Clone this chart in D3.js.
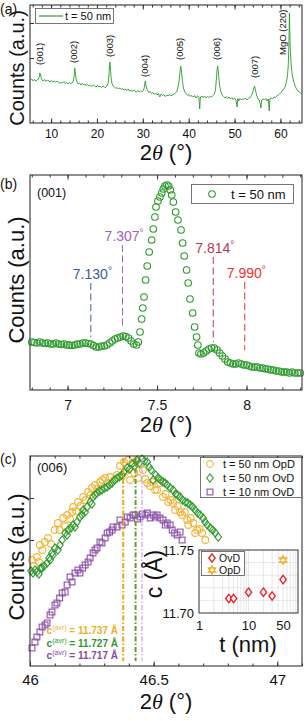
<!DOCTYPE html>
<html>
<head>
<meta charset="utf-8">
<script src="https://cdn.jsdelivr.net/npm/d3@7"></script>
<style>
  body { margin: 0; background: #fff; }
  svg text { font-family: "Liberation Sans", Arial, sans-serif; fill: #111; }
</style>
</head>
<body>
<div id="chart"></div>
<script>
// ---------- data ----------

// (a) wide 2theta scan, t = 50 nm  [2theta, counts a.u.]
const scanA = [[5.5,44],[5.8,45],[6.1,43],[6.4,44.5],[6.7,43],[7.0,44],[7.2,45],[7.4,47],[7.55,51],[7.7,49],[7.85,46],[8.0,44],[8.3,43],[8.6,44.5],[8.9,42.5],[9.2,44],[9.5,43],[9.8,42],[10.1,43.5],[10.4,42],[10.7,43],[11.0,41.5],[11.3,43],[11.6,42],[11.9,40.5],[12.2,42],[12.5,41],[12.8,42.5],[13.1,40.5],[13.4,41.5],[13.7,40],[14.0,41.5],[14.3,40.5],[14.6,41],[14.85,43],[15.0,47],[15.15,56],[15.3,51],[15.45,45],[15.65,42],[15.9,40],[16.2,41],[16.5,39],[16.8,40.5],[17.1,39],[17.4,40],[17.7,38.5],[18.0,39.5],[18.3,38],[18.6,39],[18.9,37.5],[19.2,39],[19.5,38],[19.8,37],[20.1,38.5],[20.4,37],[20.7,38],[21.0,36.5],[21.3,38],[21.6,37],[21.9,36.5],[22.2,38],[22.45,41],[22.6,48],[22.72,57],[22.82,62],[22.92,57],[23.05,48],[23.25,41],[23.5,38],[23.8,37],[24.1,35.5],[24.4,36.5],[24.7,35],[25.0,36],[25.3,34.5],[25.6,35.5],[25.9,34],[26.2,35],[26.5,33.5],[26.8,35],[27.1,33],[27.4,34],[27.7,32.5],[28.0,34],[28.3,33],[28.6,32],[28.9,33.5],[29.2,32],[29.5,33],[29.8,32],[30.1,33.5],[30.3,36],[30.45,41],[30.55,43],[30.7,38],[30.95,34],[31.3,31.5],[31.6,32.5],[31.9,30.5],[32.2,31.5],[32.5,29.5],[32.8,31],[33.1,29],[33.4,30.5],[33.7,27],[34.0,30],[34.3,28.5],[34.6,29.5],[34.9,27.5],[35.2,29],[35.5,28],[35.8,29.5],[36.1,28],[36.4,29],[36.7,29.5],[37.0,30.5],[37.35,32],[37.65,36],[37.9,43],[38.1,52],[38.25,58],[38.4,54],[38.6,44],[38.85,36],[39.15,32],[39.5,30],[39.8,28.5],[40.1,29.5],[40.4,27.5],[40.7,28.5],[41.0,27],[41.3,28.5],[41.6,26],[41.9,28],[42.2,27],[42.4,15],[42.55,27],[42.9,28],[43.2,26.5],[43.5,28],[43.8,26],[44.1,27.5],[44.4,26.5],[44.7,27.5],[45.0,27],[45.3,28.5],[45.6,30],[45.85,35],[46.05,46],[46.2,55],[46.33,58],[46.48,51],[46.68,41],[46.95,33],[47.3,29],[47.6,27.5],[47.9,26],[48.2,27.5],[48.5,25.5],[48.8,27],[49.1,25],[49.4,26.5],[49.7,24.5],[50.0,26],[50.3,24],[50.55,17],[50.7,25.5],[50.9,23],[51.2,25.5],[51.5,24],[51.8,25.5],[52.1,24.5],[52.4,26],[52.7,24],[53.0,25.5],[53.3,26],[53.6,28],[53.9,31],[54.15,35],[54.35,38],[54.55,34],[54.8,29],[55.1,25],[55.4,24],[55.75,16],[55.9,24],[56.2,25],[56.5,24],[56.8,25.5],[57.1,23],[57.35,25],[57.55,13],[57.7,25],[58.0,26],[58.3,25.5],[58.6,27],[58.9,26.5],[59.2,28],[59.5,29],[59.8,30],[60.1,31.5],[60.4,33],[60.7,35],[61.0,37],[61.25,41],[61.5,47],[61.7,58],[61.82,75],[61.9,95],[61.96,111],[62.02,96],[62.12,78],[62.3,62],[62.55,50],[62.85,43],[63.2,38],[63.5,35],[63.8,33],[64.1,32],[64.4,31],[64.65,30.5]];
const peakNames = ["(001)", "(002)", "(003)", "(004)", "(005)", "(006)", "(007)", "MgO (220)"];
const peakLabelTheta = [7.6, 14.9, 22.8, 30.45, 38.1, 46.2, 54.3, 60.4];
const peakLabelCounts = [59, 61, 67, 47, 64, 64, 46, 69];

// (b) (001) reflection  [2theta, counts a.u.]
const scanB = [[6.800,48],[6.815,47.5],[6.830,47],[6.845,48],[6.860,47],[6.875,46.5],[6.890,47],[6.905,46],[6.920,46],[6.935,47],[6.950,46],[6.965,45.5],[6.980,46],[6.995,45],[7.010,45],[7.025,44.5],[7.040,45],[7.055,46],[7.070,46],[7.085,47],[7.100,47],[7.115,46.5],[7.130,46],[7.145,44.5],[7.160,43],[7.175,43],[7.190,44],[7.205,44],[7.220,45],[7.235,47],[7.250,49],[7.265,51],[7.280,52],[7.295,53],[7.310,54],[7.325,53.5],[7.340,52],[7.355,49],[7.370,46],[7.385,45],[7.395,48],[7.405,58],[7.414,71],[7.420,82],[7.427,93],[7.436,110],[7.445,124],[7.456,138],[7.470,150],[7.479,161],[7.488,173],[7.494,183],[7.505,189],[7.516,193],[7.526,197],[7.535,201],[7.544,204],[7.555,205],[7.565,204],[7.574,200],[7.582,195],[7.591,188],[7.604,178],[7.617,170],[7.634,160],[7.643,147],[7.652,134],[7.665,120],[7.674,107],[7.684,91],[7.699,77],[7.710,63],[7.721,53],[7.728,45],[7.734,37],[7.745,36],[7.760,37],[7.775,39],[7.790,41],[7.805,42],[7.820,42],[7.835,40],[7.850,37],[7.865,34],[7.880,31],[7.895,28],[7.910,27],[7.925,26],[7.940,26],[7.955,27],[7.970,26],[7.985,25],[8.000,25],[8.015,24],[8.030,23],[8.045,23],[8.060,23],[8.075,22],[8.090,22],[8.105,21],[8.120,21],[8.135,20],[8.150,20],[8.165,19],[8.180,19],[8.195,18],[8.210,18],[8.225,18],[8.240,17],[8.255,18],[8.270,17],[8.285,17],[8.300,17]];
const satPos = [7.130, 7.307, 7.814, 7.990];
const satTop = [107, 145, 133, 108];
const satBottom = [53, 63, 48, 40];
const satColors = ["#3b5ba5", "#a662b8", "#b23a55", "#ee3333"];

// (c) (006) reflection  [2theta, counts a.u.]
const opd50 = [[46.008,106],[46.016,100],[46.028,109],[46.036,104],[46.04,121],[46.05,116],[46.06,124],[46.073,128],[46.085,122],[46.1,136],[46.113,143],[46.12,136],[46.134,148],[46.142,140],[46.15,151],[46.162,147],[46.17,154],[46.174,159],[46.186,155],[46.194,164],[46.205,160],[46.215,169],[46.225,166],[46.235,174],[46.245,171],[46.25,178],[46.263,181],[46.272,177],[46.283,184],[46.293,186],[46.304,188],[46.314,183],[46.324,189],[46.34,186],[46.352,191],[46.364,200],[46.372,190],[46.38,204],[46.388,195],[46.397,206],[46.405,186],[46.413,203],[46.422,193],[46.43,205],[46.437,188],[46.445,201],[46.457,196],[46.466,187],[46.474,183],[46.486,180],[46.495,184],[46.506,176],[46.514,176],[46.526,183],[46.538,169],[46.548,172],[46.559,164],[46.569,166],[46.579,163],[46.587,156],[46.597,160],[46.607,154],[46.615,151],[46.626,154],[46.636,146],[46.64,141],[46.65,148],[46.66,143],[46.668,133],[46.676,136],[46.686,137],[46.696,133],[46.709,126]];
const ovd50 = [[46.004,95],[46.012,93],[46.02,96],[46.028,94],[46.036,92],[46.044,98],[46.049,98],[46.057,100],[46.069,103],[46.077,108],[46.081,106],[46.089,113],[46.093,111],[46.101,118],[46.113,116],[46.121,121],[46.13,126],[46.142,133],[46.15,131],[46.154,136],[46.166,138],[46.174,141],[46.182,139],[46.19,144],[46.202,149],[46.21,151],[46.215,156],[46.223,154],[46.231,159],[46.243,164],[46.25,162],[46.255,169],[46.263,171],[46.271,173],[46.281,175],[46.291,176],[46.302,178],[46.312,179],[46.322,181],[46.332,183],[46.342,186],[46.352,188],[46.362,189],[46.372,191],[46.38,194],[46.393,198],[46.403,197],[46.413,202],[46.423,200],[46.433,206],[46.443,203],[46.453,207],[46.463,205],[46.474,204],[46.482,199],[46.49,196],[46.498,186],[46.508,191],[46.518,188],[46.528,186],[46.538,184],[46.546,183],[46.555,181],[46.567,178],[46.579,176],[46.589,172],[46.597,171],[46.607,169],[46.617,166],[46.628,164],[46.638,163],[46.648,161],[46.658,159],[46.668,156],[46.678,153],[46.688,151],[46.7,148],[46.708,144],[46.717,141],[46.729,138],[46.739,136],[46.749,133],[46.761,129]];
const ovd10 = [[46.008,18],[46.02,24],[46.028,29],[46.04,34],[46.049,39],[46.061,41],[46.069,43],[46.081,51],[46.089,54],[46.101,61],[46.109,63],[46.12,68],[46.13,73],[46.142,74],[46.15,81],[46.162,89],[46.17,84],[46.182,93],[46.194,96],[46.202,93],[46.213,98],[46.223,101],[46.235,104],[46.243,108],[46.255,113],[46.263,116],[46.271,118],[46.283,124],[46.291,123],[46.304,128],[46.312,133],[46.322,134],[46.332,136],[46.336,139],[46.352,139],[46.364,146],[46.372,141],[46.385,144],[46.393,149],[46.405,148],[46.417,151],[46.425,151],[46.435,147],[46.445,149],[46.455,152],[46.466,151],[46.474,153],[46.486,148],[46.498,151],[46.506,149],[46.514,151],[46.526,148],[46.538,146],[46.547,141],[46.555,143],[46.567,141],[46.575,136],[46.585,133],[46.595,131],[46.607,134],[46.615,126]];
const avrPos = [46.377, 46.427, 46.453];
const avrText = ["11.737", "11.727", "11.717"];

// (c) inset: c lattice parameter vs thickness
const thick = [4, 5, 10, 20, 30, 50];
const cOvD = [11.7115, 11.7115, 11.7165, 11.7165, 11.7135, 11.7265];
const cOvDErr = [0.003, 0.003, 0.003, 0.003, 0.003, 0.003];
const thickOpD = [50];
const cOpD = [11.742];

// ---------- colours ----------
const GREEN = "#2e9a2e", ORANGE = "#f2b53a", PURPLE = "#8c4fa8";
const colOpD = ORANGE, colOvD50 = GREEN, colOvD10 = PURPLE;
const avrLineColors = ["#f0a21e", "#5f9e2c", "#d2aaf3"];
const avrTextColors = ["#f0ae2a", "#2f9a2f", "#8a48a8"];

// ---------- svg ----------
const svg = d3.select("#chart").append("svg")
    .attr("width", 308)
    .attr("height", 721);

const serif = "'Liberation Serif', 'DejaVu Serif', serif";

// frame + inward ticks on all four sides
function drawAxes(box, x, major, minor, fs, pad, fmt, yTicks, y) {
  const g = svg.append("g").attr("stroke-width", 1);
  g.append("g")
      .attr("transform", `translate(0,${box.bottom})`)
      .call(d3.axisBottom(x).tickValues(minor).tickSizeInner(-2.5).tickSizeOuter(0).tickFormat(""))
      .call(s => s.select(".domain").remove());
  g.append("g")
      .attr("transform", `translate(0,${box.bottom})`)
      .call(d3.axisBottom(x).tickValues(major).tickSizeInner(-4.5).tickSizeOuter(0).tickPadding(pad).tickFormat(fmt))
      .call(s => s.select(".domain").remove())
      .call(s => s.selectAll("text").attr("font-size", fs).attr("fill", "#111").style("font-family", "'Liberation Sans', Arial, sans-serif"));
  g.append("g")
      .attr("transform", `translate(0,${box.top})`)
      .call(d3.axisTop(x).tickValues(minor).tickSizeInner(-2.5).tickSizeOuter(0).tickFormat(""))
      .call(s => s.select(".domain").remove());
  g.append("g")
      .attr("transform", `translate(0,${box.top})`)
      .call(d3.axisTop(x).tickValues(major).tickSizeInner(-4.5).tickSizeOuter(0).tickFormat(""))
      .call(s => s.select(".domain").remove());
  if (yTicks) {
    g.append("g")
        .attr("transform", `translate(${box.left},0)`)
        .call(d3.axisLeft(y).tickValues(yTicks).tickSizeInner(-4).tickSizeOuter(0).tickFormat(""))
        .call(s => s.select(".domain").remove());
  }
  g.selectAll(".tick line").attr("stroke", "#333");
  svg.append("rect")
      .attr("x", box.left).attr("y", box.top)
      .attr("width", box.right - box.left).attr("height", box.bottom - box.top)
      .attr("fill", "none").attr("stroke", "#333").attr("stroke-width", 1.1);
}

function xTitle(xc, yb) {
  const t = svg.append("text").attr("x", xc).attr("y", yb)
      .attr("text-anchor", "middle").attr("font-size", 22);
  t.append("tspan").text("2");
  t.append("tspan").style("font-family", serif).attr("font-style", "italic").text("θ");
  t.append("tspan").text(" (°)");
}

function yTitle(xb, yc, label, fs) {
  svg.append("text")
      .attr("transform", `translate(${xb},${yc}) rotate(-90)`)
      .attr("text-anchor", "middle").attr("font-size", fs)
      .text(label);
}

function panelTag(txt, yb) {
  svg.append("text").attr("x", 0).attr("y", yb).attr("font-size", 14).text(txt);
}

// marker shapes
const diamond = (w, h) => `M0,${-h}L${w},0L0,${h}L${-w},0Z`;
const hexagram = r => {
  const a = r * Math.sqrt(3) / 2, b = r / 2;
  return `M0,${-r}L${a},${b}L${-a},${b}Z M0,${r}L${a},${-b}L${-a},${-b}Z`;
};

// ================= (a) =================
const boxA = { left: 30, right: 302, top: 5, bottom: 123 };
const xA = d3.scaleLinear().domain([5.4, 64.7]).range([boxA.left, boxA.right]);
const yA = d3.scaleLinear().domain([0, 118]).range([124, 6]);

svg.append("path")
    .datum(scanA)
    .attr("fill", "none")
    .attr("stroke", GREEN)
    .attr("stroke-width", 0.9)
    .attr("stroke-linejoin", "round")
    .attr("d", d3.line().x(d => xA(d[0])).y(d => yA(d[1])));

peakNames.forEach((name, i) => {
  svg.append("text")
      .attr("transform", `translate(${xA(peakLabelTheta[i]) + 3.3},${yA(peakLabelCounts[i])}) rotate(-90)`)
      .attr("font-size", 9.5)
      .text(name);
});

drawAxes(boxA, xA, [10, 20, 30, 40, 50, 60], d3.range(6, 65, 2), 12, 6.5, d3.format("d"), [101, 66], yA);

// legend
svg.append("rect").attr("x", 35.5).attr("y", 8.5).attr("width", 78).attr("height", 15)
    .attr("fill", "#fff").attr("stroke", "#555").attr("stroke-width", 0.8);
svg.append("line").attr("x1", 39).attr("x2", 63).attr("y1", 16).attr("y2", 16)
    .attr("stroke", GREEN).attr("stroke-width", 1.2);
svg.append("text").attr("x", 65).attr("y", 20).attr("font-size", 11).text("t = 50 nm");

panelTag("(a)", 14);
yTitle(24, 68, "Counts (a.u.)", 20);
xTitle(166, 160);

// ================= (b) =================
const boxB = { left: 30, right: 302, top: 175, bottom: 390 };
const xB = d3.scaleLinear().domain([6.79, 8.31]).range([boxB.left, boxB.right]);
const yB = d3.scaleLinear().domain([0, 215]).range([boxB.bottom, boxB.top]);

svg.append("g").selectAll("circle")
    .data(scanB)
    .join("circle")
    .attr("cx", d => xB(d[0]))
    .attr("cy", d => yB(d[1]))
    .attr("r", 3.3)
    .attr("fill", "none")
    .attr("stroke", GREEN)
    .attr("stroke-width", 1.1);

satPos.forEach((p, i) => {
  svg.append("line")
      .attr("x1", xB(p)).attr("x2", xB(p))
      .attr("y1", yB(satTop[i])).attr("y2", yB(satBottom[i]))
      .attr("stroke", satColors[i]).attr("stroke-width", 1)
      .attr("stroke-dasharray", "7,3.5");
  const t = svg.append("text")
      .attr("x", xB(p) - 18).attr("y", yB(satTop[i]) - 4)
      .attr("font-size", 14)
      .style("fill", satColors[i]);
  t.append("tspan").text(p.toFixed(3));
  t.append("tspan").attr("font-size", 10).attr("dy", -5).text("°");
});

drawAxes(boxB, xB, [7, 7.5, 8], d3.range(6.8, 8.31, 0.1).map(v => +v.toFixed(1)), 14, 10, d3.format(""), null, yB);

svg.append("text").attr("x", 37).attr("y", 197).attr("font-size", 12.5).text("(001)");

// legend
svg.append("rect").attr("x", 191.5).attr("y", 184.5).attr("width", 102).attr("height", 19)
    .attr("fill", "#fff").attr("stroke", "#555").attr("stroke-width", 0.8);
svg.append("circle").attr("cx", 212).attr("cy", 194).attr("r", 3.3)
    .attr("fill", "none").attr("stroke", GREEN).attr("stroke-width", 1.1);
svg.append("text").attr("x", 231).attr("y", 199).attr("font-size", 13).text("t = 50 nm");

panelTag("(b)", 189);
yTitle(24, 280, "Counts (a.u.)", 22);
xTitle(166, 432);

// ================= (c) =================
const boxC = { left: 30, right: 302, top: 456, bottom: 666 };
const xC = d3.scaleLinear().domain([46, 47.1]).range([boxC.left, boxC.right]);
const yC = d3.scaleLinear().domain([0, 210]).range([boxC.bottom, boxC.top]);

const plotC = svg.append("g");
plotC.selectAll("circle.opd")
    .data(opd50)
    .join("circle")
    .attr("cx", d => xC(d[0]))
    .attr("cy", d => yC(d[1]))
    .attr("r", 3.4)
    .attr("fill", "none")
    .attr("stroke", colOpD)
    .attr("stroke-width", 1.1);
plotC.selectAll("path.ovd50")
    .data(ovd50)
    .join("path")
    .attr("transform", d => `translate(${xC(d[0])},${yC(d[1])})`)
    .attr("d", diamond(3.3, 4.2))
    .attr("fill", "none")
    .attr("stroke", colOvD50)
    .attr("stroke-width", 1.1);
plotC.selectAll("rect.ovd10")
    .data(ovd10)
    .join("rect")
    .attr("x", d => xC(d[0]) - 2.9)
    .attr("y", d => yC(d[1]) - 2.9)
    .attr("width", 5.8)
    .attr("height", 5.8)
    .attr("fill", "none")
    .attr("stroke", colOvD10)
    .attr("stroke-width", 1.1);

avrPos.forEach((p, i) => {
  svg.append("line")
      .attr("x1", xC(p)).attr("x2", xC(p))
      .attr("y1", boxC.top + 2).attr("y2", boxC.bottom - 5)
      .attr("stroke", avrLineColors[i])
      .attr("stroke-width", i === 2 ? 1.4 : 2)
      .attr("stroke-dasharray", "5,2,1.5,2");
  const t = svg.append("text")
      .attr("x", 118).attr("y", 634 + i * 12.5)
      .attr("text-anchor", "end")
      .attr("font-size", 10)
      .attr("font-weight", "bold")
      .style("fill", avrTextColors[i]);
  t.append("tspan").text("c");
  t.append("tspan").attr("font-size", 7).attr("font-weight", "normal").attr("dy", -4).text("(avr)");
  t.append("tspan").attr("dy", 4).text(` = ${avrText[i]} Å`);
});

drawAxes(boxC, xC, [46, 46.5, 47], d3.range(46, 47.11, 0.1).map(v => +v.toFixed(1)), 15, 8, d3.format(""), [168, 126], yC);

svg.append("text").attr("x", 37).attr("y", 472).attr("font-size", 13).text("(006)");

// legend
const legC = [
  { label: "t = 50 nm OpD", shape: "circle", color: colOpD },
  { label: "t = 50 nm OvD", shape: "diamond", color: colOvD50 },
  { label: "t = 10 nm OvD", shape: "square", color: colOvD10 }
];
svg.append("rect").attr("x", 200.5).attr("y", 457.5).attr("width", 101).attr("height", 40)
    .attr("fill", "#fff").attr("stroke", "#555").attr("stroke-width", 0.8);
legC.forEach((d, i) => {
  const cy = 464 + i * 14;
  const g = svg.append("g").attr("transform", `translate(210,${cy})`);
  if (d.shape === "circle") g.append("circle").attr("r", 3.4);
  if (d.shape === "diamond") g.append("path").attr("d", diamond(3.3, 4.2));
  if (d.shape === "square") g.append("rect").attr("x", -2.9).attr("y", -2.9).attr("width", 5.8).attr("height", 5.8);
  g.selectAll("*").attr("fill", "none").attr("stroke", d.color).attr("stroke-width", 1.1);
  svg.append("text").attr("x", 223).attr("y", cy + 4).attr("font-size", 11).text(d.label);
});

panelTag("(c)", 464);
yTitle(24, 557, "Counts (a.u.)", 22);
xTitle(166, 709);

// ---------- inset ----------
const boxI = { left: 199, right: 298, top: 550, bottom: 613 };
const xI = d3.scaleLog().domain([1, 100]).range([boxI.left, boxI.right]);
const yI = d3.scaleLinear().domain([11.70, 11.75]).range([boxI.bottom, boxI.top]);

svg.append("rect")
    .attr("x", boxI.left).attr("y", boxI.top)
    .attr("width", boxI.right - boxI.left).attr("height", boxI.bottom - boxI.top)
    .attr("fill", "#fff");

// grid
const gridX = [2, 3, 4, 5, 6, 7, 8, 9, 10, 20, 30, 40, 50, 60, 70, 80, 90];
svg.append("g").selectAll("line")
    .data(gridX)
    .join("line")
    .attr("x1", d => xI(d)).attr("x2", d => xI(d))
    .attr("y1", boxI.top).attr("y2", boxI.bottom)
    .attr("stroke", "#dcdcdc").attr("stroke-width", 0.7);
svg.append("g").selectAll("line")
    .data([11.71, 11.72, 11.73, 11.74])
    .join("line")
    .attr("x1", boxI.left).attr("x2", boxI.right)
    .attr("y1", d => yI(d)).attr("y2", d => yI(d))
    .attr("stroke", "#dcdcdc").attr("stroke-width", 0.7);

// error bars + OvD points
svg.append("g").selectAll("line")
    .data(thick)
    .join("line")
    .attr("x1", (d, i) => xI(d)).attr("x2", (d, i) => xI(d))
    .attr("y1", (d, i) => yI(cOvD[i] - cOvDErr[i]))
    .attr("y2", (d, i) => yI(cOvD[i] + cOvDErr[i]))
    .attr("stroke", "#222").attr("stroke-width", 1);
svg.append("g").selectAll("path")
    .data(thick)
    .join("path")
    .attr("transform", (d, i) => `translate(${xI(d)},${yI(cOvD[i])})`)
    .attr("d", diamond(3.2, 4.2))
    .attr("fill", "#fff")
    .attr("stroke", "#ee1c1c")
    .attr("stroke-width", 1.3);
svg.append("g").selectAll("path")
    .data(thickOpD)
    .join("path")
    .attr("transform", (d, i) => `translate(${xI(d)},${yI(cOpD[i])})`)
    .attr("d", hexagram(4.3))
    .attr("fill", "none")
    .attr("stroke", "#f0ae20")
    .attr("stroke-width", 1.2);

svg.append("rect")
    .attr("x", boxI.left).attr("y", boxI.top)
    .attr("width", boxI.right - boxI.left).attr("height", boxI.bottom - boxI.top)
    .attr("fill", "none").attr("stroke", "#333").attr("stroke-width", 1);

// inset tick labels
svg.append("g")
    .attr("transform", `translate(0,${boxI.bottom})`)
    .call(d3.axisBottom(xI).tickValues([1, 10, 50]).tickSizeInner(0).tickSizeOuter(0).tickPadding(8).tickFormat(d3.format("d")))
    .call(s => s.select(".domain").remove())
    .call(s => s.selectAll("text").attr("font-size", 13).attr("fill", "#111"));
svg.append("g")
    .attr("transform", `translate(${boxI.left},0)`)
    .call(d3.axisLeft(yI).tickValues([11.70, 11.75]).tickSizeInner(0).tickSizeOuter(0).tickPadding(5).tickFormat(d3.format(".2f")))
    .call(s => s.select(".domain").remove())
    .call(s => s.selectAll("text").attr("font-size", 13).attr("fill", "#111"));

// inset legend
svg.append("rect").attr("x", 201.5).attr("y", 551.5).attr("width", 43).attr("height", 24)
    .attr("fill", "#fff").attr("stroke", "#555").attr("stroke-width", 0.8);
svg.append("path").attr("transform", "translate(212,558)").attr("d", diamond(3.2, 4.2))
    .attr("fill", "none").attr("stroke", "#ee1c1c").attr("stroke-width", 1.3);
svg.append("path").attr("transform", "translate(212,570)").attr("d", hexagram(4.3))
    .attr("fill", "none").attr("stroke", "#f0ae20").attr("stroke-width", 1.2);
svg.append("text").attr("x", 219).attr("y", 562).attr("font-size", 10.5).text("OvD");
svg.append("text").attr("x", 219).attr("y", 574).attr("font-size", 10.5).text("OpD");

svg.append("text").attr("x", 248).attr("y", 652).attr("text-anchor", "middle").attr("font-size", 22).text("t (nm)");
yTitle(162, 574, "c (Å)", 23);
</script>
</body>
</html>
